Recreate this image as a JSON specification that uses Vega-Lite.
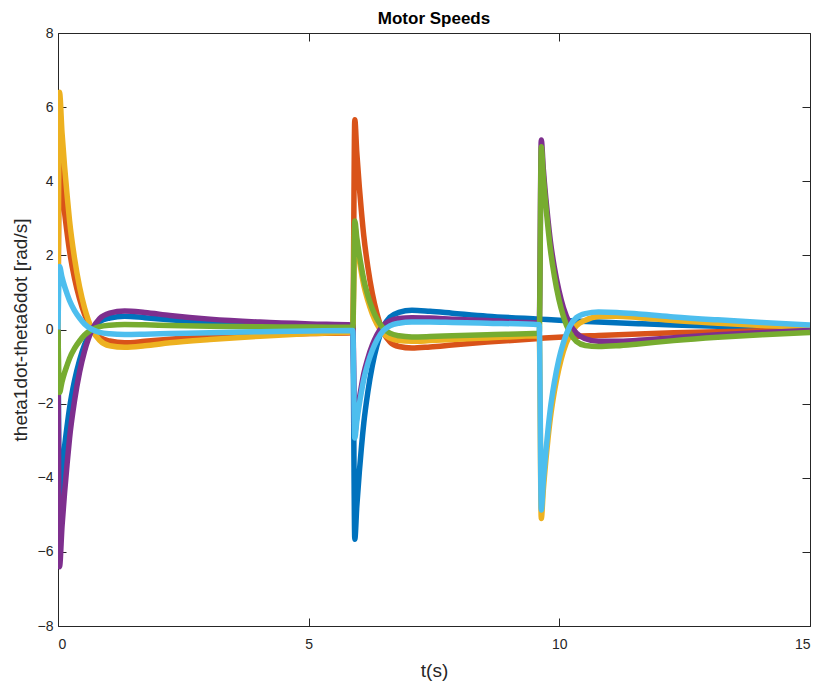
{
  "$schema": "https://vega.github.io/schema/vega-lite/v6.json",
  "width": 752,
  "height": 593,
  "autosize": {"type": "none"},
  "padding": {"left": 58, "top": 33, "right": 10, "bottom": 58},
  "background": "white",
  "title": {"text": "Motor Speeds", "font": "Liberation Sans", "fontSize": 17, "fontWeight": "bold", "color": "#000000", "anchor": "middle", "offset": -2},
  "data": {"values": [
    {"t":0,"v":0,"m":"theta1dot"},{"t":0.03,"v":-4.6,"m":"theta1dot"},{"t":0.08,"v":-3.82,"m":"theta1dot"},{"t":0.13,"v":-3.17,"m":"theta1dot"},{"t":0.18,"v":-2.62,"m":"theta1dot"},{"t":0.23,"v":-2.12,"m":"theta1dot"},{"t":0.33,"v":-1.38,"m":"theta1dot"},{"t":0.43,"v":-0.83,"m":"theta1dot"},{"t":0.53,"v":-0.41,"m":"theta1dot"},{"t":0.68,"v":0,"m":"theta1dot"},{"t":0.83,"v":0.21,"m":"theta1dot"},{"t":1.03,"v":0.31,"m":"theta1dot"},{"t":1.33,"v":0.36,"m":"theta1dot"},{"t":1.73,"v":0.32,"m":"theta1dot"},{"t":2.23,"v":0.26,"m":"theta1dot"},{"t":3.03,"v":0.19,"m":"theta1dot"},{"t":4.03,"v":0.14,"m":"theta1dot"},{"t":5.03,"v":0.11,"m":"theta1dot"},{"t":5.88,"v":0.087,"m":"theta1dot"},
    {"t":5.92,"v":-5.66,"m":"theta1dot"},{"t":5.96,"v":-4.77,"m":"theta1dot"},{"t":6.01,"v":-3.85,"m":"theta1dot"},{"t":6.05,"v":-3.22,"m":"theta1dot"},{"t":6.1,"v":-2.52,"m":"theta1dot"},{"t":6.18,"v":-1.69,"m":"theta1dot"},{"t":6.27,"v":-0.97,"m":"theta1dot"},{"t":6.36,"v":-0.44,"m":"theta1dot"},{"t":6.49,"v":0.08,"m":"theta1dot"},{"t":6.62,"v":0.33,"m":"theta1dot"},{"t":6.8,"v":0.46,"m":"theta1dot"},{"t":7.06,"v":0.52,"m":"theta1dot"},{"t":7.42,"v":0.49,"m":"theta1dot"},{"t":7.86,"v":0.44,"m":"theta1dot"},{"t":8.56,"v":0.36,"m":"theta1dot"},{"t":9.6,"v":0.28,"m":"theta1dot"},
    {"t":10.08,"v":0.245,"m":"theta1dot"},{"t":10.78,"v":0.2,"m":"theta1dot"},{"t":11.58,"v":0.156,"m":"theta1dot"},{"t":12.28,"v":0.121,"m":"theta1dot"},{"t":13.16,"v":0.089,"m":"theta1dot"},{"t":14.04,"v":0.065,"m":"theta1dot"},{"t":15,"v":0.046,"m":"theta1dot"},

    {"t":0,"v":0,"m":"theta2dot"},{"t":0.03,"v":4.6,"m":"theta2dot"},{"t":0.08,"v":3.82,"m":"theta2dot"},{"t":0.13,"v":3.17,"m":"theta2dot"},{"t":0.18,"v":2.62,"m":"theta2dot"},{"t":0.23,"v":2.12,"m":"theta2dot"},{"t":0.33,"v":1.38,"m":"theta2dot"},{"t":0.43,"v":0.83,"m":"theta2dot"},{"t":0.53,"v":0.41,"m":"theta2dot"},{"t":0.68,"v":0,"m":"theta2dot"},{"t":0.83,"v":-0.21,"m":"theta2dot"},{"t":1.03,"v":-0.31,"m":"theta2dot"},{"t":1.33,"v":-0.36,"m":"theta2dot"},{"t":1.73,"v":-0.32,"m":"theta2dot"},{"t":2.23,"v":-0.26,"m":"theta2dot"},{"t":3.03,"v":-0.19,"m":"theta2dot"},{"t":4.03,"v":-0.14,"m":"theta2dot"},{"t":5.03,"v":-0.11,"m":"theta2dot"},{"t":5.88,"v":-0.087,"m":"theta2dot"},
    {"t":5.92,"v":5.66,"m":"theta2dot"},{"t":5.96,"v":4.77,"m":"theta2dot"},{"t":6.01,"v":3.85,"m":"theta2dot"},{"t":6.05,"v":3.22,"m":"theta2dot"},{"t":6.1,"v":2.52,"m":"theta2dot"},{"t":6.18,"v":1.69,"m":"theta2dot"},{"t":6.27,"v":0.97,"m":"theta2dot"},{"t":6.36,"v":0.44,"m":"theta2dot"},{"t":6.49,"v":-0.08,"m":"theta2dot"},{"t":6.62,"v":-0.33,"m":"theta2dot"},{"t":6.8,"v":-0.46,"m":"theta2dot"},{"t":7.06,"v":-0.5,"m":"theta2dot"},{"t":7.42,"v":-0.47,"m":"theta2dot"},{"t":7.86,"v":-0.42,"m":"theta2dot"},{"t":8.56,"v":-0.34,"m":"theta2dot"},{"t":9.6,"v":-0.24,"m":"theta2dot"},
    {"t":10.08,"v":-0.2,"m":"theta2dot"},{"t":10.78,"v":-0.16,"m":"theta2dot"},{"t":11.58,"v":-0.12,"m":"theta2dot"},{"t":12.28,"v":-0.09,"m":"theta2dot"},{"t":13.16,"v":-0.06,"m":"theta2dot"},{"t":14.04,"v":-0.035,"m":"theta2dot"},{"t":15,"v":-0.01,"m":"theta2dot"},

    {"t":0,"v":0,"m":"theta3dot"},{"t":0.03,"v":6.4,"m":"theta3dot"},{"t":0.08,"v":5.31,"m":"theta3dot"},{"t":0.13,"v":4.42,"m":"theta3dot"},{"t":0.18,"v":3.65,"m":"theta3dot"},{"t":0.23,"v":2.94,"m":"theta3dot"},{"t":0.33,"v":1.92,"m":"theta3dot"},{"t":0.43,"v":1.15,"m":"theta3dot"},{"t":0.53,"v":0.58,"m":"theta3dot"},{"t":0.68,"v":0,"m":"theta3dot"},{"t":0.83,"v":-0.29,"m":"theta3dot"},{"t":1.03,"v":-0.44,"m":"theta3dot"},{"t":1.33,"v":-0.48,"m":"theta3dot"},{"t":1.73,"v":-0.44,"m":"theta3dot"},{"t":2.23,"v":-0.36,"m":"theta3dot"},{"t":3.03,"v":-0.27,"m":"theta3dot"},{"t":4.03,"v":-0.18,"m":"theta3dot"},{"t":5.03,"v":-0.11,"m":"theta3dot"},{"t":5.88,"v":-0.07,"m":"theta3dot"},
    {"t":5.92,"v":2.78,"m":"theta3dot"},{"t":5.96,"v":2.33,"m":"theta3dot"},{"t":6.01,"v":1.87,"m":"theta3dot"},{"t":6.05,"v":1.55,"m":"theta3dot"},{"t":6.1,"v":1.19,"m":"theta3dot"},{"t":6.18,"v":0.78,"m":"theta3dot"},{"t":6.27,"v":0.42,"m":"theta3dot"},{"t":6.36,"v":0.15,"m":"theta3dot"},{"t":6.49,"v":-0.11,"m":"theta3dot"},{"t":6.62,"v":-0.23,"m":"theta3dot"},{"t":6.8,"v":-0.3,"m":"theta3dot"},{"t":7.06,"v":-0.32,"m":"theta3dot"},{"t":7.42,"v":-0.3,"m":"theta3dot"},{"t":7.86,"v":-0.27,"m":"theta3dot"},{"t":8.56,"v":-0.23,"m":"theta3dot"},{"t":9.6,"v":-0.17,"m":"theta3dot"},
    {"t":9.64,"v":-5.1,"m":"theta3dot"},{"t":9.68,"v":-4.34,"m":"theta3dot"},{"t":9.73,"v":-3.55,"m":"theta3dot"},{"t":9.77,"v":-3.0,"m":"theta3dot"},{"t":9.82,"v":-2.4,"m":"theta3dot"},{"t":9.9,"v":-1.68,"m":"theta3dot"},{"t":9.99,"v":-1.06,"m":"theta3dot"},{"t":10.08,"v":-0.59,"m":"theta3dot"},{"t":10.21,"v":-0.15,"m":"theta3dot"},{"t":10.34,"v":0.1,"m":"theta3dot"},{"t":10.52,"v":0.25,"m":"theta3dot"},{"t":10.78,"v":0.35,"m":"theta3dot"},{"t":11.14,"v":0.36,"m":"theta3dot"},{"t":11.58,"v":0.32,"m":"theta3dot"},{"t":12.28,"v":0.24,"m":"theta3dot"},{"t":13.16,"v":0.17,"m":"theta3dot"},{"t":14.04,"v":0.11,"m":"theta3dot"},{"t":15,"v":0.07,"m":"theta3dot"},

    {"t":0,"v":0,"m":"theta4dot"},{"t":0.03,"v":-6.4,"m":"theta4dot"},{"t":0.08,"v":-5.31,"m":"theta4dot"},{"t":0.13,"v":-4.42,"m":"theta4dot"},{"t":0.18,"v":-3.65,"m":"theta4dot"},{"t":0.23,"v":-2.94,"m":"theta4dot"},{"t":0.33,"v":-1.92,"m":"theta4dot"},{"t":0.43,"v":-1.15,"m":"theta4dot"},{"t":0.53,"v":-0.58,"m":"theta4dot"},{"t":0.68,"v":0,"m":"theta4dot"},{"t":0.83,"v":0.29,"m":"theta4dot"},{"t":1.03,"v":0.44,"m":"theta4dot"},{"t":1.33,"v":0.5,"m":"theta4dot"},{"t":1.73,"v":0.46,"m":"theta4dot"},{"t":2.23,"v":0.38,"m":"theta4dot"},{"t":3.03,"v":0.28,"m":"theta4dot"},{"t":4.03,"v":0.2,"m":"theta4dot"},{"t":5.03,"v":0.15,"m":"theta4dot"},{"t":5.88,"v":0.12,"m":"theta4dot"},
    {"t":5.92,"v":-2.78,"m":"theta4dot"},{"t":5.96,"v":-2.33,"m":"theta4dot"},{"t":6.01,"v":-1.87,"m":"theta4dot"},{"t":6.05,"v":-1.55,"m":"theta4dot"},{"t":6.1,"v":-1.19,"m":"theta4dot"},{"t":6.18,"v":-0.78,"m":"theta4dot"},{"t":6.27,"v":-0.42,"m":"theta4dot"},{"t":6.36,"v":-0.15,"m":"theta4dot"},{"t":6.49,"v":0.11,"m":"theta4dot"},{"t":6.62,"v":0.23,"m":"theta4dot"},{"t":6.8,"v":0.3,"m":"theta4dot"},{"t":7.06,"v":0.32,"m":"theta4dot"},{"t":7.42,"v":0.31,"m":"theta4dot"},{"t":7.86,"v":0.28,"m":"theta4dot"},{"t":8.56,"v":0.24,"m":"theta4dot"},{"t":9.6,"v":0.18,"m":"theta4dot"},
    {"t":9.64,"v":5.11,"m":"theta4dot"},{"t":9.68,"v":4.34,"m":"theta4dot"},{"t":9.73,"v":3.55,"m":"theta4dot"},{"t":9.77,"v":3.01,"m":"theta4dot"},{"t":9.82,"v":2.4,"m":"theta4dot"},{"t":9.9,"v":1.68,"m":"theta4dot"},{"t":9.99,"v":1.06,"m":"theta4dot"},{"t":10.08,"v":0.59,"m":"theta4dot"},{"t":10.21,"v":0.15,"m":"theta4dot"},{"t":10.34,"v":-0.1,"m":"theta4dot"},{"t":10.52,"v":-0.25,"m":"theta4dot"},{"t":10.78,"v":-0.32,"m":"theta4dot"},{"t":11.14,"v":-0.32,"m":"theta4dot"},{"t":11.58,"v":-0.29,"m":"theta4dot"},{"t":12.28,"v":-0.22,"m":"theta4dot"},{"t":13.16,"v":-0.14,"m":"theta4dot"},{"t":14.04,"v":-0.08,"m":"theta4dot"},{"t":15,"v":-0.03,"m":"theta4dot"},

    {"t":0,"v":0,"m":"theta5dot"},{"t":0.03,"v":-1.7,"m":"theta5dot"},{"t":0.08,"v":-1.41,"m":"theta5dot"},{"t":0.13,"v":-1.17,"m":"theta5dot"},{"t":0.18,"v":-0.97,"m":"theta5dot"},{"t":0.23,"v":-0.78,"m":"theta5dot"},{"t":0.33,"v":-0.51,"m":"theta5dot"},{"t":0.43,"v":-0.31,"m":"theta5dot"},{"t":0.53,"v":-0.15,"m":"theta5dot"},{"t":0.68,"v":0,"m":"theta5dot"},{"t":0.83,"v":0.077,"m":"theta5dot"},{"t":1.03,"v":0.116,"m":"theta5dot"},{"t":1.33,"v":0.133,"m":"theta5dot"},{"t":1.73,"v":0.125,"m":"theta5dot"},{"t":2.23,"v":0.11,"m":"theta5dot"},{"t":3.03,"v":0.09,"m":"theta5dot"},{"t":4.03,"v":0.075,"m":"theta5dot"},{"t":5.03,"v":0.065,"m":"theta5dot"},{"t":5.88,"v":0.06,"m":"theta5dot"},
    {"t":5.92,"v":2.93,"m":"theta5dot"},{"t":5.96,"v":2.48,"m":"theta5dot"},{"t":6.01,"v":2.02,"m":"theta5dot"},{"t":6.05,"v":1.7,"m":"theta5dot"},{"t":6.1,"v":1.34,"m":"theta5dot"},{"t":6.18,"v":0.92,"m":"theta5dot"},{"t":6.27,"v":0.56,"m":"theta5dot"},{"t":6.36,"v":0.29,"m":"theta5dot"},{"t":6.49,"v":0.03,"m":"theta5dot"},{"t":6.62,"v":-0.1,"m":"theta5dot"},{"t":6.8,"v":-0.17,"m":"theta5dot"},{"t":7.06,"v":-0.2,"m":"theta5dot"},{"t":7.42,"v":-0.19,"m":"theta5dot"},{"t":7.86,"v":-0.17,"m":"theta5dot"},{"t":8.56,"v":-0.14,"m":"theta5dot"},{"t":9.6,"v":-0.1,"m":"theta5dot"},
    {"t":9.64,"v":4.93,"m":"theta5dot"},{"t":9.68,"v":4.15,"m":"theta5dot"},{"t":9.73,"v":3.35,"m":"theta5dot"},{"t":9.77,"v":2.8,"m":"theta5dot"},{"t":9.82,"v":2.18,"m":"theta5dot"},{"t":9.9,"v":1.45,"m":"theta5dot"},{"t":9.99,"v":0.82,"m":"theta5dot"},{"t":10.08,"v":0.36,"m":"theta5dot"},{"t":10.21,"v":-0.09,"m":"theta5dot"},{"t":10.34,"v":-0.32,"m":"theta5dot"},{"t":10.52,"v":-0.43,"m":"theta5dot"},{"t":10.78,"v":-0.46,"m":"theta5dot"},{"t":11.14,"v":-0.44,"m":"theta5dot"},{"t":11.58,"v":-0.39,"m":"theta5dot"},{"t":12.28,"v":-0.3,"m":"theta5dot"},{"t":13.16,"v":-0.21,"m":"theta5dot"},{"t":14.04,"v":-0.14,"m":"theta5dot"},{"t":15,"v":-0.08,"m":"theta5dot"},

    {"t":0,"v":0,"m":"theta6dot"},{"t":0.03,"v":1.7,"m":"theta6dot"},{"t":0.08,"v":1.41,"m":"theta6dot"},{"t":0.13,"v":1.17,"m":"theta6dot"},{"t":0.18,"v":0.97,"m":"theta6dot"},{"t":0.23,"v":0.78,"m":"theta6dot"},{"t":0.33,"v":0.51,"m":"theta6dot"},{"t":0.43,"v":0.31,"m":"theta6dot"},{"t":0.53,"v":0.15,"m":"theta6dot"},{"t":0.68,"v":0,"m":"theta6dot"},{"t":0.83,"v":-0.077,"m":"theta6dot"},{"t":1.03,"v":-0.116,"m":"theta6dot"},{"t":1.33,"v":-0.133,"m":"theta6dot"},{"t":1.73,"v":-0.125,"m":"theta6dot"},{"t":2.23,"v":-0.11,"m":"theta6dot"},{"t":3.03,"v":-0.085,"m":"theta6dot"},{"t":4.03,"v":-0.06,"m":"theta6dot"},{"t":5.03,"v":-0.04,"m":"theta6dot"},{"t":5.88,"v":-0.03,"m":"theta6dot"},
    {"t":5.92,"v":-2.93,"m":"theta6dot"},{"t":5.96,"v":-2.48,"m":"theta6dot"},{"t":6.01,"v":-2.02,"m":"theta6dot"},{"t":6.05,"v":-1.7,"m":"theta6dot"},{"t":6.1,"v":-1.34,"m":"theta6dot"},{"t":6.18,"v":-0.92,"m":"theta6dot"},{"t":6.27,"v":-0.56,"m":"theta6dot"},{"t":6.36,"v":-0.29,"m":"theta6dot"},{"t":6.49,"v":-0.03,"m":"theta6dot"},{"t":6.62,"v":0.1,"m":"theta6dot"},{"t":6.8,"v":0.17,"m":"theta6dot"},{"t":7.06,"v":0.2,"m":"theta6dot"},{"t":7.42,"v":0.2,"m":"theta6dot"},{"t":7.86,"v":0.19,"m":"theta6dot"},{"t":8.56,"v":0.17,"m":"theta6dot"},{"t":9.6,"v":0.13,"m":"theta6dot"},
    {"t":9.64,"v":-4.87,"m":"theta6dot"},{"t":9.68,"v":-4.1,"m":"theta6dot"},{"t":9.73,"v":-3.31,"m":"theta6dot"},{"t":9.77,"v":-2.76,"m":"theta6dot"},{"t":9.82,"v":-2.15,"m":"theta6dot"},{"t":9.9,"v":-1.43,"m":"theta6dot"},{"t":9.99,"v":-0.81,"m":"theta6dot"},{"t":10.08,"v":-0.36,"m":"theta6dot"},{"t":10.21,"v":0.09,"m":"theta6dot"},{"t":10.34,"v":0.32,"m":"theta6dot"},{"t":10.52,"v":0.43,"m":"theta6dot"},{"t":10.78,"v":0.47,"m":"theta6dot"},{"t":11.14,"v":0.46,"m":"theta6dot"},{"t":11.58,"v":0.42,"m":"theta6dot"},{"t":12.28,"v":0.34,"m":"theta6dot"},{"t":13.16,"v":0.26,"m":"theta6dot"},{"t":14.04,"v":0.19,"m":"theta6dot"},{"t":15,"v":0.12,"m":"theta6dot"}
  ]},
  "layer": [
    {
      "mark": {"type": "point", "opacity": 0},
      "encoding": {
        "x": {"field": "t", "type": "quantitative", "scale": {"domain": [0, 15], "nice": false, "zero": false},
              "axis": {"orient": "top", "values": [0, 5, 10, 15], "labels": false, "title": null, "tickSize": -8, "domain": false}},
        "y": {"field": "v", "type": "quantitative", "scale": {"domain": [-8, 8], "nice": false},
              "axis": {"orient": "right", "values": [-8, -6, -4, -2, 0, 2, 4, 6, 8], "labels": false, "title": null, "tickSize": -8, "domain": false}}
      }
    },
    {
      "mark": {"type": "line", "strokeWidth": 5.5, "interpolate": "monotone", "clip": true},
      "encoding": {
        "x": {"field": "t", "type": "quantitative", "scale": {"domain": [0, 15], "nice": false, "zero": false},
              "axis": {"orient": "bottom", "values": [0, 5, 10, 15], "title": "t(s)", "tickSize": -8, "labelPadding": 19, "titlePadding": 10, "domain": false}},
        "y": {"field": "v", "type": "quantitative", "scale": {"domain": [-8, 8], "nice": false},
              "axis": {"orient": "left", "values": [-8, -6, -4, -2, 0, 2, 4, 6, 8], "title": "theta1dot-theta6dot [rad/s]", "tickSize": -8, "labelPadding": 13, "titlePadding": 7, "domain": false}},
        "color": {"field": "m", "type": "nominal",
                  "scale": {"domain": ["theta1dot", "theta2dot", "theta3dot", "theta4dot", "theta5dot", "theta6dot"],
                            "range": ["#0072BD", "#D95319", "#EDB120", "#7E2F8E", "#77AC30", "#4DBEEE"]},
                  "legend": null}
      }
    }
  ],
  "resolve": {"axis": {"x": "independent", "y": "independent"}},
  "config": {
    "view": {"stroke": "#262626", "strokeWidth": 1},
    "axis": {"grid": false, "tickColor": "#262626", "tickWidth": 1, "labelColor": "#262626", "labelFont": "Liberation Sans", "labelFontSize": 14,
             "titleFont": "Liberation Sans", "titleFontSize": 19, "titleFontWeight": "normal", "titleColor": "#262626"}
  }
}
